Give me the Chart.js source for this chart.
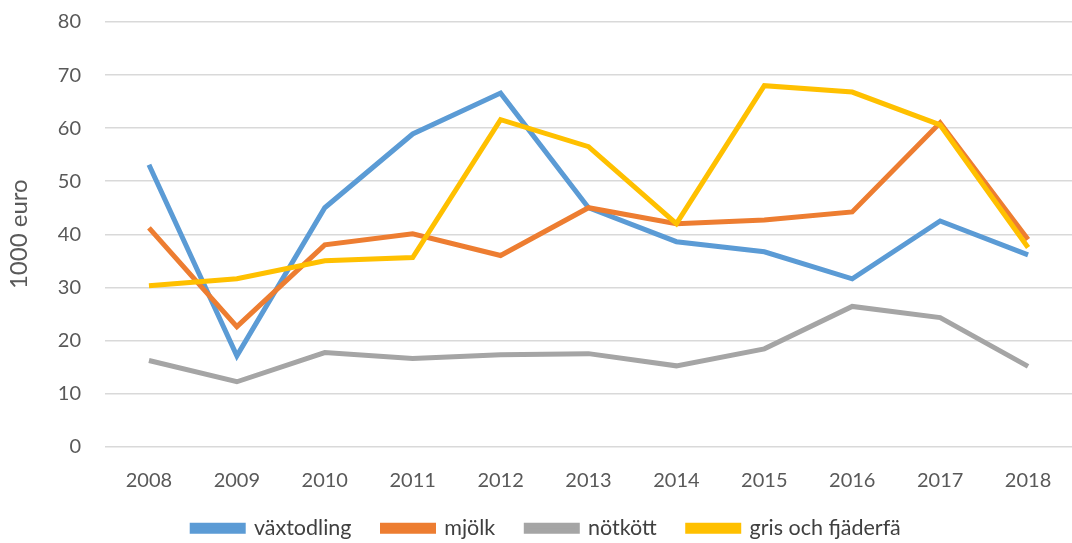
<!DOCTYPE html>
<html><head><meta charset="utf-8">
<script src="https://cdn.jsdelivr.net/npm/chart.js@4"></script>
<style>html,body{margin:0;padding:0;background:#fff}#w{width:1072px;height:543px}</style>
</head><body><div id="w"><canvas id="c"></canvas></div>
<script>
const years = ['2008','2009','2010','2011','2012','2013','2014','2015','2016','2017','2018'];
const vaxtodling = [53.1, 17.1, 45.0, 58.9, 66.6, 45.0, 38.6, 36.7, 31.6, 42.5, 36.1];
const mjolk      = [41.2, 22.6, 38.0, 40.1, 36.0, 45.0, 42.0, 42.7, 44.2, 61.0, 39.0];
const notkott    = [16.2, 12.2, 17.7, 16.6, 17.3, 17.5, 15.2, 18.4, 26.4, 24.3, 15.1];
const gris       = [30.3, 31.6, 35.0, 35.6, 61.6, 56.5, 42.0, 68.0, 66.8, 60.6, 37.5];
const seriesNames = ['växtodling','mjölk','nötkött','gris och fjäderfä'];
const colors = ['#5B9BD5','#ED7D31','#A5A5A5','#FFC000'];
const yTitle = '1000 euro';

const font = "Lato, 'Noto Sans', sans-serif";
const data = [vaxtodling, mjolk, notkott, gris];
const LEGEND_SHIFT_Y = 20;
const LEGEND_SHIFT_X = 8;
const legendTighten = {
  id: 'legendTighten',
  afterInit(chart) {
    const lg = chart.legend;
    if (!lg) return;
    const fit = lg.fit;
    lg.fit = function () { fit.call(this); this.height -= LEGEND_SHIFT_Y; };
    const draw = lg.draw;
    lg.draw = function () {
      this.top -= LEGEND_SHIFT_Y; this.left += LEGEND_SHIFT_X; this.right += LEGEND_SHIFT_X;
      draw.call(this);
      this.top += LEGEND_SHIFT_Y; this.left -= LEGEND_SHIFT_X; this.right -= LEGEND_SHIFT_X;
    };
  }
};
new Chart(document.getElementById('c'), {
  type: 'line',
  data: {
    labels: years,
    datasets: data.map((d,i)=>({
      label: seriesNames[i], data: d, borderColor: colors[i], backgroundColor: colors[i],
      borderWidth: 5, pointRadius: 0, tension: 0, fill: false, order: 4-i,
      borderCapStyle: 'butt', borderJoinStyle: 'miter'
    }))
  },
  plugins: [legendTighten],
  options: {
    responsive: true, maintainAspectRatio: false, animation: false,
    layout: { padding: { left: 5, right: 0, top: 22, bottom: -6 } },
    plugins: {
      tooltip: { enabled: false },
      legend: {
        position: 'bottom',
        labels: { boxWidth: 51, boxHeight: 6, padding: 31, color: '#404040',
          sort: (a,b)=>a.datasetIndex-b.datasetIndex,
          font: { family: font, size: 21.5 } }
      }
    },
    scales: {
      x: {
        offset: true,
        grid: { display: false },
        border: { display: false },
        ticks: { color: '#595959', font: { family: font, size: 20 }, padding: 14, maxRotation: 0 }
      },
      y: {
        min: 0, max: 80,
        grid: { color: '#D9D9D9', lineWidth: 1.5, drawTicks: true, tickLength: 24, tickColor: 'rgba(0,0,0,0)' },
        border: { display: false },
        ticks: { stepSize: 10, color: '#595959', font: { family: font, size: 20 }, padding: 0 },
        title: { display: true, text: yTitle, color: '#595959', font: { family: font, size: 24 }, padding: { top: 0, bottom: 24 } }
      }
    }
  }
});
</script></body></html>
